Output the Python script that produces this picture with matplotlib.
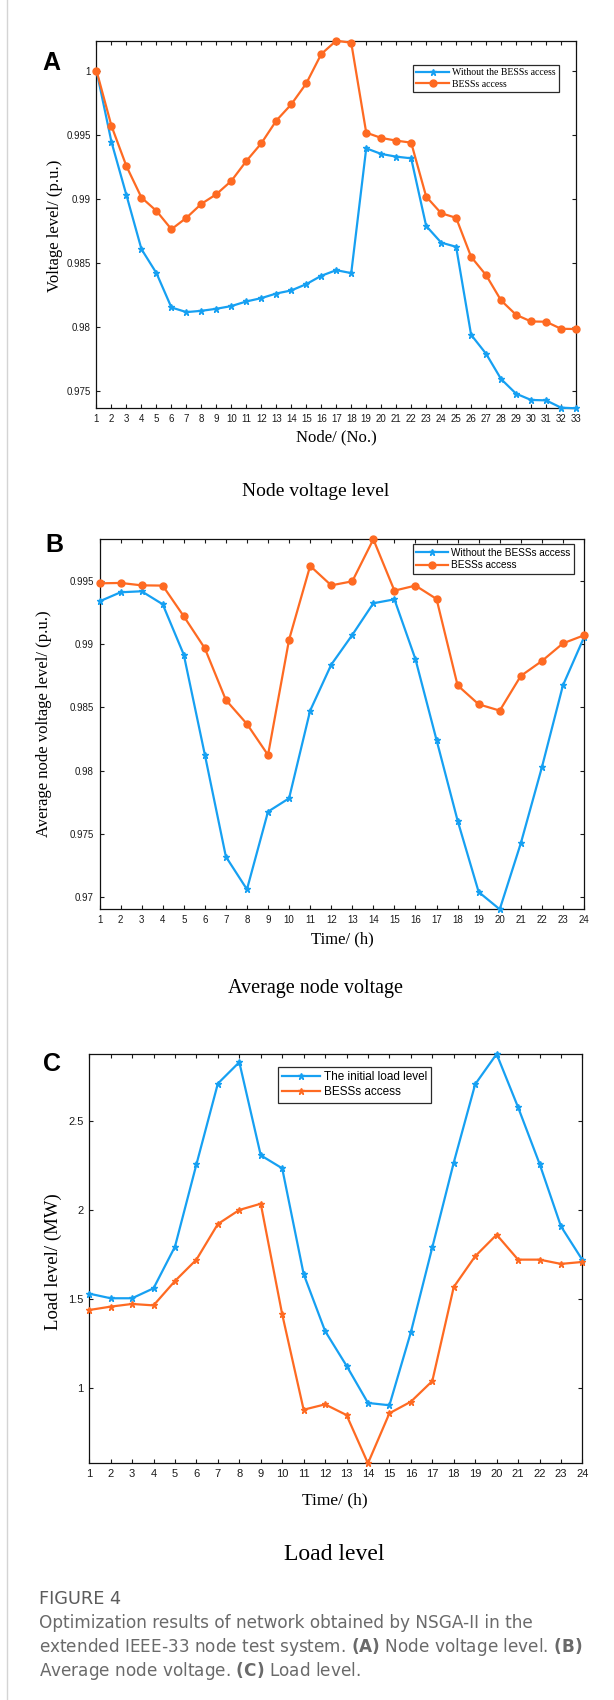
import matplotlib
matplotlib.use('Agg')
import matplotlib.pyplot as plt
from matplotlib.lines import Line2D

# (A) node voltage over the 33 nodes, p.u.
nodes = list(range(1, 34))
volt_base = [1.0, 0.99444, 0.99029, 0.98609, 0.98422, 0.98154, 0.98118, 0.98128, 0.98144,
             0.98165, 0.98201, 0.98227, 0.98263, 0.98287, 0.98336, 0.98401, 0.98445, 0.98422,
             0.99395, 0.99351, 0.99330, 0.99317, 0.98790, 0.98660, 0.98627, 0.97941, 0.97793,
             0.97596, 0.97482, 0.97433, 0.97430, 0.97373, 0.97368]
volt_bess = [1.0, 0.99569, 0.99255, 0.99011, 0.98907, 0.98764, 0.98853, 0.98962, 0.99037,
             0.99141, 0.99296, 0.99434, 0.99611, 0.99738, 0.99901, 1.00130, 1.00234, 1.00218,
             0.99517, 0.99476, 0.99455, 0.99439, 0.99019, 0.98889, 0.98853, 0.98549, 0.98406,
             0.98209, 0.98097, 0.98045, 0.98043, 0.97988, 0.97986]

# (B) average node voltage per hour, p.u.
hours = list(range(1, 25))
avg_base = [0.99341, 0.99413, 0.99421, 0.99318, 0.98919, 0.98126, 0.97317, 0.97058, 0.97674,
            0.97780, 0.98475, 0.98839, 0.99075, 0.99326, 0.99357, 0.98882, 0.98242, 0.97603,
            0.97037, 0.96900, 0.97423, 0.98025, 0.98675, 0.99056]
avg_bess = [0.99484, 0.99487, 0.99468, 0.99466, 0.99223, 0.98969, 0.98559, 0.98369, 0.98123,
            0.99038, 0.99622, 0.99468, 0.99500, 0.99833, 0.99426, 0.99466, 0.99360, 0.98675,
            0.98525, 0.98475, 0.98750, 0.98868, 0.99008, 0.99072]

# (C) load per hour, MW
load_base = [1.532, 1.506, 1.506, 1.562, 1.796, 2.258, 2.712, 2.832, 2.309, 2.236, 1.642, 1.322,
             1.127, 0.918, 0.905, 1.315, 1.792, 2.268, 2.708, 2.878, 2.579, 2.262, 1.910, 1.721]
load_bess = [1.440, 1.459, 1.474, 1.466, 1.603, 1.723, 1.923, 2.002, 2.037, 1.416, 0.880, 0.910,
             0.850, 0.579, 0.860, 0.925, 1.041, 1.569, 1.742, 1.863, 1.723, 1.723, 1.699, 1.710]

BLUE = '#16a0f2'
ORANGE = '#fe6a22'
SANS = 'Liberation Sans'
SERIF = 'Liberation Serif'

W, H = 614, 1700
fig = plt.figure(figsize=(W / 100, H / 100), dpi=100)


def add_axes_px(left, top, right, bottom):
    return fig.add_axes([left / W, 1 - bottom / H, (right - left) / W, (bottom - top) / H])


def style_axes(ax, x, series, yticks, yticklabels, ticksize):
    ax.set_xlim(x[0], x[-1])
    ax.set_ylim(min(min(s) for s in series), max(max(s) for s in series))
    ax.set_xticks(x)
    ax.set_yticks(yticks)
    ax.set_yticklabels(yticklabels)
    ax.tick_params(direction='in', top=True, right=True, length=3, width=0.8,
                   labelsize=ticksize, pad=4, colors='#1a1a1a')
    for lbl in ax.get_xticklabels() + ax.get_yticklabels():
        lbl.set_family(SANS)
    for sp in ax.spines.values():
        sp.set_linewidth(0.9)
        sp.set_color('#111111')


def add_legend(ax, handles, labels, left, top, size, family, hlen):
    leg = ax.legend(handles, labels, loc='upper left',
                    bbox_to_anchor=(left / W, 1 - top / H), bbox_transform=fig.transFigure,
                    borderaxespad=0, fancybox=False, framealpha=1, edgecolor='#2a2a2a',
                    borderpad=0.35, handlelength=hlen, handletextpad=0.3, labelspacing=0.25,
                    prop={'family': family, 'size': size})
    leg.get_frame().set_linewidth(0.9)
    return leg


def line_key(color, marker, ms):
    return Line2D([], [], color=color, lw=1.6, marker=marker, ms=ms)


# ---- panel A
axA = add_axes_px(96.5, 40.7, 576, 408.3)
axA.plot(nodes, volt_base, color=BLUE, lw=1.6, marker='*', ms=4.5, clip_on=False, zorder=3)
axA.plot(nodes, volt_bess, color=ORANGE, lw=1.6, marker='o', ms=5, clip_on=False, zorder=3)
style_axes(axA, nodes, [volt_base, volt_bess],
           [0.975, 0.98, 0.985, 0.99, 0.995, 1.0],
           ['0.975', '0.98', '0.985', '0.99', '0.995', '1'], 7)
axA.set_xlabel('Node/ (No.)', family=SERIF, fontsize=12)
axA.set_ylabel('Voltage level/ (p.u.)', family=SERIF, fontsize=12, va='center')
axA.yaxis.set_label_coords(55 / W, 1 - 226 / H, transform=fig.transFigure)
axA.xaxis.set_label_coords(336 / W, 1 - 437 / H, transform=fig.transFigure)
axA.xaxis.label.set_va('center')
add_legend(axA, [line_key(BLUE, '*', 4.5), line_key(ORANGE, 'o', 5)],
           ['Without the BESSs access', 'BESSs access'], 412.7, 65, 7, SERIF, 3.4)

# ---- panel B
axB = add_axes_px(99.5, 539.3, 584, 909.3)
axB.plot(hours, avg_base, color=BLUE, lw=1.6, marker='*', ms=4.5, clip_on=False, zorder=3)
axB.plot(hours, avg_bess, color=ORANGE, lw=1.6, marker='o', ms=5, clip_on=False, zorder=3)
style_axes(axB, hours, [avg_base, avg_bess],
           [0.97, 0.975, 0.98, 0.985, 0.99, 0.995],
           ['0.97', '0.975', '0.98', '0.985', '0.99', '0.995'], 7)
axB.set_xlabel('Time/ (h)', family=SERIF, fontsize=12)
axB.set_ylabel('Average node voltage level/ (p.u.)', family=SERIF, fontsize=12, va='center')
axB.yaxis.set_label_coords(44 / W, 1 - 724 / H, transform=fig.transFigure)
axB.xaxis.set_label_coords(342 / W, 1 - 939 / H, transform=fig.transFigure)
axB.xaxis.label.set_va('center')
add_legend(axB, [line_key(BLUE, '*', 4.5), line_key(ORANGE, 'o', 5)],
           ['Without the BESSs access', 'BESSs access'], 412.7, 544, 7.2, SANS, 3.2)

# ---- panel C
axC = add_axes_px(89.2, 1054, 582.4, 1463.3)
axC.plot(hours, load_base, color=BLUE, lw=1.6, marker='*', ms=5, clip_on=False, zorder=3)
axC.plot(hours, load_bess, color=ORANGE, lw=1.6, marker='*', ms=5, clip_on=False, zorder=3)
style_axes(axC, hours, [load_base, load_bess],
           [1.0, 1.5, 2.0, 2.5], ['1', '1.5', '2', '2.5'], 8)
axC.set_xlabel('Time/ (h)', family=SERIF, fontsize=12.5)
axC.set_ylabel('Load level/ (MW)', family=SERIF, fontsize=13.5, va='center')
axC.yaxis.set_label_coords(53 / W, 1 - 1262 / H, transform=fig.transFigure)
axC.xaxis.set_label_coords(335 / W, 1 - 1500 / H, transform=fig.transFigure)
axC.xaxis.label.set_va('center')
add_legend(axC, [line_key(BLUE, '*', 5), line_key(ORANGE, '*', 5)],
           ['The initial load level', 'BESSs access'], 278.3, 1067.3, 8.5, SANS, 3.2)

# panel letters and sub-captions
for letter, x, y in [('A', 51, 63), ('B', 54, 545), ('C', 52, 1064)]:
    fig.text(x / W, 1 - y / H, letter, family=SANS, fontweight='bold', fontsize=18,
             ha='center', va='center')
for title, x, y, size in [('Node voltage level', 316, 491, 14),
                          ('Average node voltage', 315, 989, 14.5),
                          ('Load level', 334, 1555, 17)]:
    fig.text(x / W, 1 - y / H, title, family=SERIF, fontsize=size, ha='center', va='center')

# figure caption
GREY = '#6a6a6a'
fig.text(39 / W, 1 - 1599 / H, 'FIGURE 4', family='DejaVu Sans', fontsize=12.8,
         color='#5c5c5c', va='center')
caption = ['Optimization results of network obtained by NSGA-II in the',
           'extended IEEE-33 node test system. $\\bf{(A)}$ Node voltage level. $\\bf{(B)}$',
           'Average node voltage. $\\bf{(C)}$ Load level.']
for i, line in enumerate(caption):
    fig.text(39 / W, 1 - (1623 + 24 * i) / H, line, family='DejaVu Sans', fontsize=12.2,
             color=GREY, va='center')

# thin page border on the left
fig.add_artist(Line2D([7 / W, 7 / W], [0, 1], transform=fig.transFigure,
                      color='#d4d4d4', lw=1))

fig.savefig('out.png', dpi=100)
